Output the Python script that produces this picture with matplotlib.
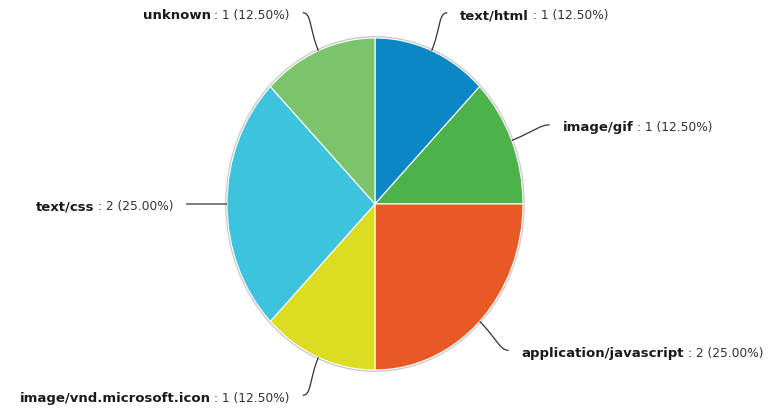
import numpy as np
import matplotlib.pyplot as plt
from matplotlib.patches import Circle, PathPatch
from matplotlib.path import Path

# Content types, clockwise from 12 o'clock
types = ['text/html', 'image/gif', 'application/javascript',
         'image/vnd.microsoft.icon', 'text/css', 'unknown']
counts = [1, 1, 2, 1, 2, 1]
colors = ['#0b87c6', '#4db249', '#e85a25', '#dcdc22', '#3ec3de', '#7bc46c']

fig = plt.figure(figsize=(7.68, 4.08), dpi=100)
ax = fig.add_axes([0, 0, 1, 1])

# pie centre sits at (375, 204) px, radius 148 px wide and 166 px tall
cx, cy, rx, ry = 375, 204, 148, 166

wedges, _ = ax.pie(counts, colors=colors, startangle=90, counterclock=False,
                   radius=1.0, wedgeprops=dict(edgecolor='white', linewidth=0.8))
ax.set_xlim(-cx / rx, (768 - cx) / rx)
ax.set_ylim(-(408 - cy) / ry, cy / ry)
ax.set_aspect('auto')
ax.axis('off')

# faint rim around the pie
ax.add_patch(Circle((0, 0), 1.006, facecolor='none', edgecolor='#c9c9c9',
                    linewidth=1.3, zorder=0.5))

total = sum(counts)
fs_name, fs_rest = 9.5, 8.8
leader = 41  # px from rim to label
gap = 13     # px from leader end to text
for w, name, n in zip(wedges, types, counts):
    ang = np.deg2rad((w.theta1 + w.theta2) / 2)
    c, s = np.cos(ang), np.sin(ang)
    x0, y0 = c, s
    x1, y1 = c * (1 + 24 / rx), s * (1 + 24 / ry)
    x3, y3 = c * (1 + leader / rx), s * (1 + leader / ry)
    side = 1 if x3 >= 0 else -1
    x2, y2 = x3 - side * 9 / rx, y3
    path = Path([(x0, y0), (x1, y1), (x2, y2), (x3, y3)],
                [Path.MOVETO, Path.CURVE4, Path.CURVE4, Path.CURVE4])
    ax.add_patch(PathPatch(path, facecolor='none', edgecolor='#333333', linewidth=0.9))

    rest = f': {n} ({100 * n / total:.2f}%)'
    tx, ty = x3 + side * gap / rx, y3 - 3 / ry
    if side > 0:
        t = ax.text(tx, ty, name, fontsize=fs_name, fontweight='bold', color='#1a1a1a',
                    ha='left', va='center')
        ax.annotate(rest, xy=(1, 0), xycoords=t, xytext=(2.5, 0),
                    textcoords='offset points', fontsize=fs_rest, color='#333333',
                    ha='left', va='bottom')
    else:
        t = ax.text(tx, ty, rest, fontsize=fs_rest, color='#333333',
                    ha='right', va='center')
        ax.annotate(name, xy=(0, 0), xycoords=t, xytext=(-2.5, 0),
                    textcoords='offset points', fontsize=fs_name, fontweight='bold',
                    color='#1a1a1a', ha='right', va='bottom')

fig.savefig('out.png', dpi=100)
